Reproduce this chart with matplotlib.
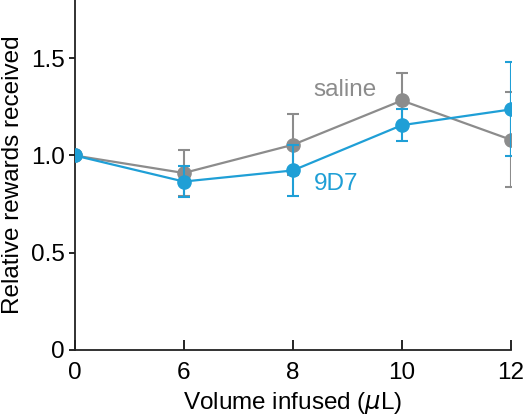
import matplotlib
matplotlib.use("Agg")
import matplotlib.pyplot as plt
import numpy as np

plt.rcParams['font.family'] = ['Liberation Sans', 'DejaVu Sans']

volumes = ['0', '6', '8', '10', '12']
saline = [1.0, 0.91, 1.055, 1.283, 1.081]
saline_err = [0.0, 0.118, 0.156, 0.142, 0.244]
mab = [1.0, 0.866, 0.923, 1.156, 1.237]
mab_err = [0.0, 0.082, 0.13, 0.082, 0.242]

grey = '#8c8c8c'
blue = '#1f9fd6'
fs = 17.5

fig = plt.figure(figsize=(5.3, 4.19), dpi=100)
ax = fig.add_axes([0.141, 0.165, 0.823, 0.835])

x = np.arange(len(volumes))
ax.errorbar(x, saline, yerr=saline_err, color=grey, marker='o', ms=9.5,
            lw=1.6, elinewidth=1.5, capsize=4, capthick=1.5, zorder=2)
ax.errorbar(x, mab, yerr=mab_err, color=blue, marker='o', ms=9.5,
            lw=1.6, elinewidth=1.5, capsize=4, capthick=1.5, zorder=3)

ax.text(2.19, 1.336, 'saline', color=grey, fontsize=fs, ha='left', va='center')
ax.text(2.19, 0.853, '9D7', color=blue, fontsize=fs, ha='left', va='center')

ax.set_xlim(0, 4)
ax.set_ylim(0, 1.8)
ax.set_xticks(x)
ax.set_xticklabels(volumes)
ax.set_yticks([0, 0.5, 1.0, 1.5])
ax.set_yticklabels(['0', '0.5', '1.0', '1.5'])
ax.tick_params(axis='x', direction='in', length=7, width=1.2, labelsize=fs, pad=9)
ax.tick_params(axis='y', direction='out', length=4, width=1.2, labelsize=fs, pad=3)

for s in ['top', 'right']:
    ax.spines[s].set_visible(False)
for s in ['left', 'bottom']:
    ax.spines[s].set_linewidth(1.3)
    ax.spines[s].set_color('#222222')

ax.set_xlabel('Volume infused ($\\mu$L)', fontsize=fs, labelpad=4)
ax.set_ylabel('Relative rewards received', fontsize=fs, labelpad=5)

fig.savefig('out.png', dpi=100)
